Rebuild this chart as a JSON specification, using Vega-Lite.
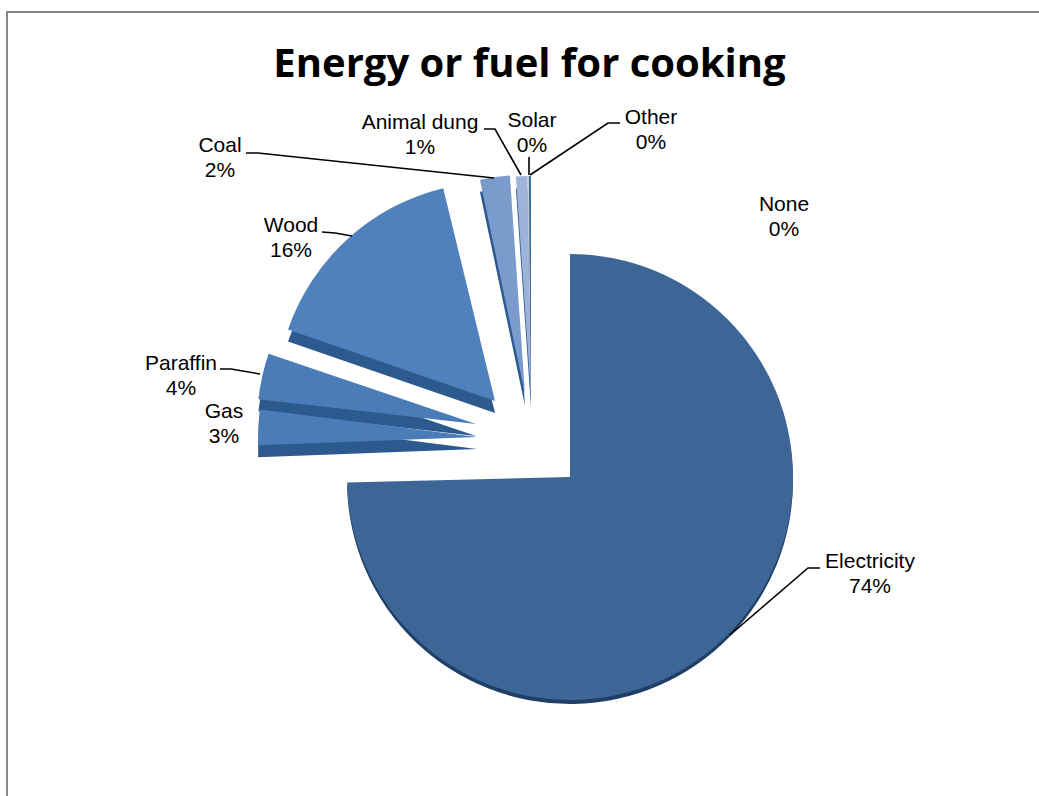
{
"$schema":"https://vega.github.io/schema/vega-lite/v6.json",
"autosize":"none","width":1039,"height":704,
"padding":{"left":0,"top":92,"right":0,"bottom":0},
"background":"white",
"view":{"stroke":null},
"title":{"text":"Energy or fuel for cooking","font":"Open Sans","fontWeight":"bold","fontSize":40,"color":"#000000","anchor":"middle","dx":10,"offset":-77},
"datasets":{
"slices":[
{"source":"Electricity","share":74,"start":0,"end":74.6,"explodeX":0,"explodeY":-1},
{"source":"Gas","share":3,"start":74.4,"end":77,"explodeX":-93,"explodeY":39},
{"source":"Paraffin","share":4,"start":76.8,"end":80.2,"explodeX":-94,"explodeY":52},
{"source":"Wood","share":16,"start":80.3,"end":96.2,"explodeX":-75,"explodeY":75},
{"source":"Coal","share":2,"start":96.7,"end":98.9,"explodeX":-45,"explodeY":82},
{"source":"Animal dung","share":1,"start":98.9,"end":99.7,"explodeX":-39,"explodeY":81},
{"source":"Solar","share":0,"start":99.7,"end":99.85,"explodeX":-39,"explodeY":81},
{"source":"Other","share":0,"start":99.85,"end":100,"explodeX":-39,"explodeY":81}
],
"labels":[
{"label":"Electricity\n74%","lx":300,"ly":-86},
{"label":"None\n0%","lx":214,"ly":271},
{"label":"Other\n0%","lx":81,"ly":358},
{"label":"Solar\n0%","lx":-38,"ly":355},
{"label":"Animal dung\n1%","lx":-150,"ly":353},
{"label":"Coal\n2%","lx":-350,"ly":330},
{"label":"Wood\n16%","lx":-279,"ly":250},
{"label":"Paraffin\n4%","lx":-389,"ly":112},
{"label":"Gas\n3%","lx":-346,"ly":64}
],
"leaders":[
{"k":"Electricity","o":1,"lx":250,"ly":-92},{"k":"Electricity","o":2,"lx":238,"ly":-92},{"k":"Electricity","o":3,"lx":160,"ly":-159},
{"k":"Coal","o":1,"lx":-324,"ly":323},{"k":"Coal","o":2,"lx":-312,"ly":323},{"k":"Coal","o":3,"lx":-76,"ly":298},
{"k":"Dung","o":1,"lx":-86,"ly":347},{"k":"Dung","o":2,"lx":-75,"ly":347},{"k":"Dung","o":3,"lx":-49,"ly":301},
{"k":"Solar","o":1,"lx":-41,"ly":319},{"k":"Solar","o":2,"lx":-41,"ly":301},
{"k":"Other","o":1,"lx":50,"ly":353},{"k":"Other","o":2,"lx":38,"ly":353},{"k":"Other","o":3,"lx":-40,"ly":301},
{"k":"Wood","o":1,"lx":-248,"ly":244},{"k":"Wood","o":2,"lx":-235,"ly":243},{"k":"Wood","o":3,"lx":-218,"ly":240},
{"k":"Paraffin","o":1,"lx":-350,"ly":107},{"k":"Paraffin","o":2,"lx":-339,"ly":107},{"k":"Paraffin","o":3,"lx":-310,"ly":102}
],
"frame":[
{"o":1,"lx":-563,"ly":-320},{"o":2,"lx":-563,"ly":464},{"o":3,"lx":469,"ly":464}
]
},
"data":{"name":"slices"},
"layer":[
{"data":{"name":"frame"},"mark":{"type":"line","stroke":"#868686","strokeWidth":2},
 "encoding":{"x":{"field":"lx","type":"quantitative","scale":{"domain":[-570,469],"nice":false,"zero":false},"axis":null},"y":{"field":"ly","type":"quantitative","scale":{"domain":[-320,384],"nice":false,"zero":false},"axis":null},"order":{"field":"o"}}},
{"transform":[{"filter":"datum.source !== 'Electricity'"}],
 "mark":{"type":"arc","radius":219,"yOffset":12,"fill":"#2D5A8E"},
 "encoding":{"x":{"field":"explodeX","type":"quantitative","scale":{"domain":[-570,469],"nice":false,"zero":false},"axis":null},"y":{"field":"explodeY","type":"quantitative","scale":{"domain":[-320,384],"nice":false,"zero":false},"axis":null},"theta":{"field":"start","type":"quantitative","scale":{"domain":[0,100]},"stack":null},"theta2":{"field":"end"}}},
{"transform":[{"filter":"datum.source === 'Electricity'"}],
 "mark":{"type":"arc","radius":223,"yOffset":4,"fill":"#203F66"},
 "encoding":{"x":{"field":"explodeX","type":"quantitative","scale":{"domain":[-570,469],"nice":false,"zero":false},"axis":null},"y":{"field":"explodeY","type":"quantitative","scale":{"domain":[-320,384],"nice":false,"zero":false},"axis":null},"theta":{"field":"start","type":"quantitative","scale":{"domain":[0,100]},"stack":null},"theta2":{"field":"end"}}},
{"transform":[{"filter":"datum.source === 'Electricity'"}],
 "mark":{"type":"arc","radius":223},
 "encoding":{"x":{"field":"explodeX","type":"quantitative","scale":{"domain":[-570,469],"nice":false,"zero":false},"axis":null},"y":{"field":"explodeY","type":"quantitative","scale":{"domain":[-320,384],"nice":false,"zero":false},"axis":null},"theta":{"field":"start","type":"quantitative","scale":{"domain":[0,100]},"stack":null},"theta2":{"field":"end"},
 "color":{"field":"source","type":"nominal","legend":null,"scale":{"domain":["Electricity","Gas","Paraffin","Wood","Coal","Animal dung","Solar","Other"],"range":["#3D6696","#4A7DB8","#4A7DB8","#4F81BD","#7A9BCB","#9DB3D9","#C3CAD6","#3F6F9F"]}}}},
{"transform":[{"filter":"datum.source !== 'Electricity'"}],
 "mark":{"type":"arc","radius":219},
 "encoding":{"x":{"field":"explodeX","type":"quantitative","scale":{"domain":[-570,469],"nice":false,"zero":false},"axis":null},"y":{"field":"explodeY","type":"quantitative","scale":{"domain":[-320,384],"nice":false,"zero":false},"axis":null},"theta":{"field":"start","type":"quantitative","scale":{"domain":[0,100]},"stack":null},"theta2":{"field":"end"},
 "color":{"field":"source","type":"nominal","legend":null,"scale":{"domain":["Electricity","Gas","Paraffin","Wood","Coal","Animal dung","Solar","Other"],"range":["#3D6696","#4A7DB8","#4A7DB8","#4F81BD","#7A9BCB","#9DB3D9","#C3CAD6","#3F6F9F"]}}}},
{"data":{"name":"leaders"},"mark":{"type":"line","stroke":"#000000","strokeWidth":1.6},
 "encoding":{"x":{"field":"lx","type":"quantitative","scale":{"domain":[-570,469],"nice":false,"zero":false},"axis":null},"y":{"field":"ly","type":"quantitative","scale":{"domain":[-320,384],"nice":false,"zero":false},"axis":null},"detail":{"field":"k"},"order":{"field":"o"}}},
{"data":{"name":"labels"},"mark":{"type":"text","font":"Liberation Sans","fontSize":21,"lineBreak":"\n","lineHeight":25,"align":"center","baseline":"middle","color":"#000000"},
 "encoding":{"x":{"field":"lx","type":"quantitative","scale":{"domain":[-570,469],"nice":false,"zero":false},"axis":null},"y":{"field":"ly","type":"quantitative","scale":{"domain":[-320,384],"nice":false,"zero":false},"axis":null},"text":{"field":"label"}}}
]
}
